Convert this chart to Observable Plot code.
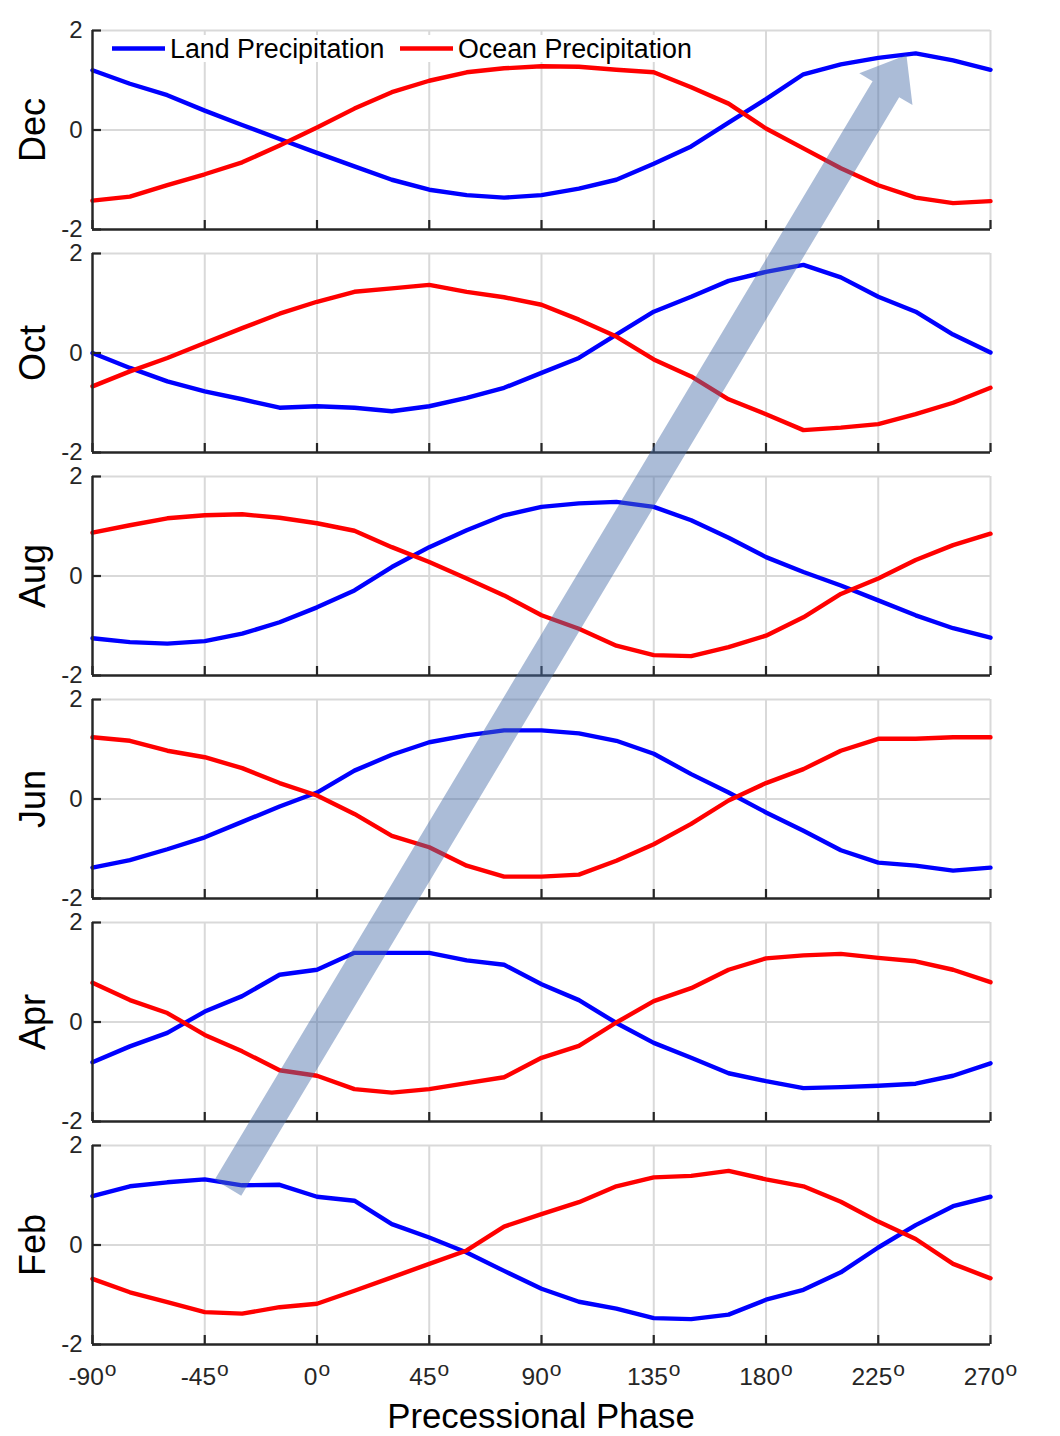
<!DOCTYPE html>
<html><head><meta charset="utf-8">
<script src="https://cdn.jsdelivr.net/npm/d3@7"></script>
<script src="https://cdn.jsdelivr.net/npm/@observablehq/plot@0.6"></script>
<style>
body{margin:0;background:#fff;}
#chart{position:relative;width:1060px;height:1436px;font-family:"Liberation Sans",Arial,Helvetica,sans-serif;background:#fff;}
#chart svg{position:absolute;left:0;}
</style></head><body><div id="chart"></div>
<script>
// ---- data ----
const phases = [-90,-75,-60,-45,-30,-15,0,15,30,45,60,75,90,105,120,135,150,165,180,195,210,225,240,255,270];
const months = ["Dec","Oct","Aug","Jun","Apr","Feb"];
const xTicks = [-90,-45,0,45,90,135,180,225,270];
const yTicks = [-2,0,2];
const seriesNames = ["Land Precipitation","Ocean Precipitation"];
const seriesColors = ["#0000ff","#ff0000"];

const landDec = [1.2,0.93,0.70,0.39,0.10,-0.18,-0.46,-0.73,-1.0,-1.2,-1.31,-1.36,-1.31,-1.18,-1.0,-0.68,-0.33,0.15,0.62,1.12,1.32,1.45,1.54,1.40,1.21];
const oceanDec = [-1.42,-1.34,-1.11,-0.89,-0.65,-0.31,0.05,0.43,0.76,0.99,1.16,1.24,1.28,1.27,1.21,1.16,0.86,0.53,0.03,-0.37,-0.77,-1.11,-1.36,-1.47,-1.43];
const landOct = [0,-0.3,-0.57,-0.77,-0.93,-1.1,-1.07,-1.1,-1.17,-1.07,-0.9,-0.7,-0.4,-0.1,0.37,0.83,1.13,1.45,1.63,1.77,1.52,1.13,0.83,0.37,0.01];
const oceanOct = [-0.67,-0.37,-0.1,0.2,0.5,0.79,1.03,1.23,1.3,1.37,1.23,1.12,0.97,0.67,0.33,-0.13,-0.47,-0.93,-1.23,-1.55,-1.5,-1.43,-1.23,-1.0,-0.7];
const landAug = [-1.25,-1.33,-1.36,-1.31,-1.16,-0.93,-0.63,-0.29,0.18,0.58,0.92,1.22,1.39,1.46,1.49,1.39,1.12,0.77,0.38,0.08,-0.19,-0.49,-0.79,-1.05,-1.24];
const oceanAug = [0.87,1.02,1.16,1.22,1.24,1.17,1.06,0.91,0.58,0.28,-0.05,-0.39,-0.79,-1.06,-1.40,-1.59,-1.61,-1.43,-1.2,-0.83,-0.36,-0.05,0.32,0.62,0.85];
const landJun = [-1.38,-1.23,-1.01,-0.77,-0.46,-0.15,0.13,0.57,0.89,1.14,1.28,1.38,1.38,1.32,1.17,0.91,0.5,0.13,-0.27,-0.64,-1.03,-1.28,-1.34,-1.44,-1.38];
const oceanJun = [1.24,1.17,0.97,0.84,0.62,0.32,0.07,-0.30,-0.74,-0.97,-1.34,-1.56,-1.56,-1.52,-1.24,-0.91,-0.5,-0.03,0.32,0.6,0.97,1.21,1.21,1.24,1.24];
const landApr = [-0.81,-0.49,-0.22,0.21,0.52,0.95,1.05,1.39,1.39,1.39,1.24,1.15,0.76,0.44,-0.02,-0.42,-0.72,-1.03,-1.19,-1.33,-1.31,-1.28,-1.24,-1.08,-0.83];
const oceanApr = [0.79,0.44,0.18,-0.26,-0.59,-0.97,-1.08,-1.35,-1.42,-1.35,-1.23,-1.11,-0.72,-0.48,-0.01,0.42,0.68,1.05,1.28,1.34,1.37,1.29,1.22,1.05,0.80];
const landFeb = [0.98,1.18,1.26,1.32,1.2,1.21,0.97,0.89,0.42,0.15,-0.15,-0.52,-0.88,-1.14,-1.28,-1.47,-1.49,-1.4,-1.1,-0.9,-0.55,-0.05,0.4,0.78,0.97];
const oceanFeb = [-0.68,-0.95,-1.15,-1.35,-1.38,-1.25,-1.18,-0.92,-0.65,-0.38,-0.11,0.37,0.62,0.86,1.18,1.36,1.39,1.49,1.32,1.18,0.87,0.47,0.12,-0.38,-0.67];

const landByMonth = {Dec: landDec, Oct: landOct, Aug: landAug, Jun: landJun, Apr: landApr, Feb: landFeb};
const oceanByMonth = {Dec: oceanDec, Oct: oceanOct, Aug: oceanAug, Jun: oceanJun, Apr: oceanApr, Feb: oceanFeb};

// arrow annotation (data coordinates: month panel, phase, value)
const arrowTail = {month: "Feb", phase: -35.5, value: 1.14};
const arrowTip = {month: "Dec", phase: 236.5, value: 1.5};

// ---- layout ----
const W = 1060, ML = 92, MR = 70, PH = 199, STEP = 223, TOP0 = 30, MT = 14, MB = 14, MB_LAST = 60;
const AXIS = "#262626", GRID = "#d9d9d9";
const chart = document.getElementById("chart");
const plots = {};
const tops = {};

months.forEach((m, i) => {
  const last = i === months.length - 1;
  const land = phases.map((p, j) => ({phase: p, value: landByMonth[m][j]}));
  const ocean = phases.map((p, j) => ({phase: p, value: oceanByMonth[m][j]}));
  const mb = last ? MB_LAST : MB;
  const marks = [
    Plot.ruleX(xTicks, {stroke: GRID, strokeWidth: 2}),
    Plot.ruleY([0, 2], {stroke: GRID, strokeWidth: 2}),
    Plot.line(land, {x: "phase", y: "value", stroke: seriesColors[0], strokeWidth: 4.4}),
    Plot.line(ocean, {x: "phase", y: "value", stroke: seriesColors[1], strokeWidth: 4.4}),
    Plot.ruleX([-90], {stroke: AXIS, strokeWidth: 2.4}),
    Plot.ruleY([-2], {stroke: AXIS, strokeWidth: 2.4}),
    Plot.axisX(xTicks, {tickSize: -9, tickFormat: () => "", stroke: AXIS, strokeWidth: 2.2, label: null}),
    Plot.axisY(yTicks, {tickSize: -9, tickFormat: () => "", stroke: AXIS, strokeWidth: 2.2, label: null}),
    Plot.axisY(yTicks, {tickSize: 0, tickPadding: 10, tickFormat: d => String(d), fontSize: 24, fill: AXIS, label: null}),
    Plot.text([m], {text: d => d, frameAnchor: "left", textAnchor: "middle", lineAnchor: "middle", dx: -59, rotate: -90, fontSize: 36, fill: "#000"})
  ];
  if (last) marks.push(Plot.axisX(xTicks, {tickSize: 0, tickPadding: 23, tickFormat: d => String(d), fontSize: 24.5, fill: AXIS, label: null}));
  const p = Plot.plot({
    width: W, height: MT + PH + mb,
    marginLeft: ML, marginRight: MR, marginTop: MT, marginBottom: mb,
    style: {fontFamily: '"Liberation Sans", Arial, sans-serif', background: "transparent", overflow: "visible"},
    x: {domain: [-90, 270], label: null},
    y: {domain: [-2, 2], label: null},
    marks
  });
  const top = TOP0 + STEP * i - MT;
  p.style.top = top + "px";
  chart.appendChild(p);
  plots[m] = p; tops[m] = top;
  if (last) {
    p.querySelectorAll('g[aria-label="x-axis tick label"] text').forEach(t => {
      const s = t.textContent;
      if (!s) return;
      t.textContent = s;
      const ts = document.createElementNS("http://www.w3.org/2000/svg", "tspan");
      ts.setAttribute("dy", "-9");
      ts.setAttribute("dx", "1");
      ts.setAttribute("font-size", "21");
      ts.textContent = "o";
      t.appendChild(ts);
    });
  }
});

// ---- overlay: legend, arrow, x label ----
const ov = d3.select(chart).append("svg").attr("width", W).attr("height", 1436)
  .style("top", "0px").style("pointer-events", "none")
  .attr("font-family", '"Liberation Sans", Arial, sans-serif');

// legend inside Dec panel
const lg = ov.append("g");
lg.append("rect").attr("x", 100).attr("y", 35).attr("width", 600).attr("height", 27).attr("fill", "#fff");
const legendX = [112, 400];
seriesNames.forEach((name, k) => {
  lg.append("line").attr("x1", legendX[k]).attr("x2", legendX[k] + 53).attr("y1", 48.5).attr("y2", 48.5)
    .attr("stroke", seriesColors[k]).attr("stroke-width", 4.4);
  lg.append("text").attr("x", legendX[k] + 58).attr("y", 48.5).attr("dy", "0.35em")
    .attr("font-size", 26.8).attr("fill", "#000").text(name);
});

// arrow
function toPx(pt) {
  const p = plots[pt.month];
  return [p.scale("x").apply(pt.phase), tops[pt.month] + p.scale("y").apply(pt.value)];
}
const [x0, y0] = toPx(arrowTail), [x1, y1] = toPx(arrowTip);
const len = Math.hypot(x1 - x0, y1 - y0), ux = (x1 - x0) / len, uy = (y1 - y0) / len;
const nx = -uy, ny = ux;
const hw = 15.5, hh = 31, hl = 40;
const bx = x1 - ux * hl, by = y1 - uy * hl;
const pts = [
  [x0 + nx * hw, y0 + ny * hw], [bx + nx * hw, by + ny * hw], [bx + nx * hh, by + ny * hh],
  [x1, y1], [bx - nx * hh, by - ny * hh], [bx - nx * hw, by - ny * hw], [x0 - nx * hw, y0 - ny * hw]
];
ov.append("polygon").attr("points", pts.map(d => d.join(",")).join(" "))
  .attr("fill", "rgb(72,108,168)").attr("fill-opacity", 0.46);

// x axis title
ov.append("text").attr("x", (ML + W - MR) / 2).attr("y", 1428).attr("text-anchor", "middle")
  .attr("font-size", 34.8).attr("fill", "#000").text("Precessional Phase");
</script></body></html>
